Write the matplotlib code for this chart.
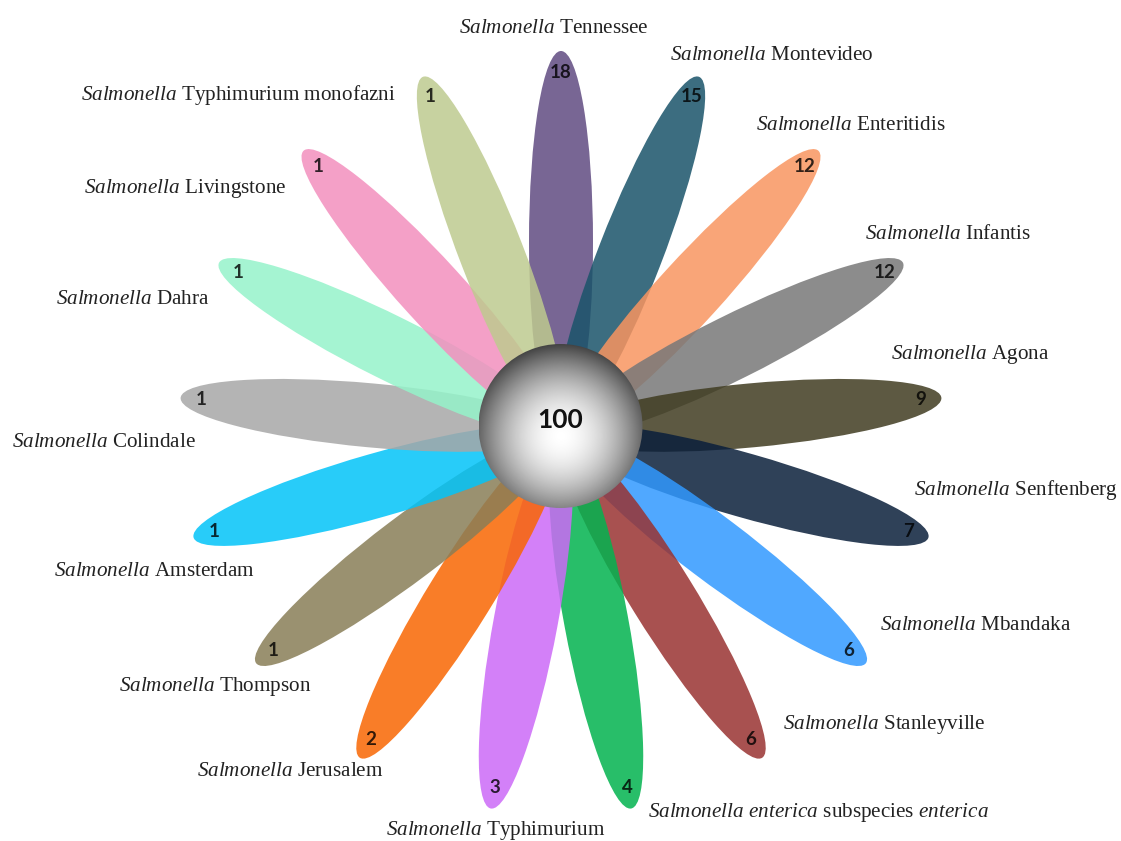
import numpy as np
import matplotlib
matplotlib.use("Agg")
import matplotlib.pyplot as plt
from matplotlib.patches import Ellipse, Circle

# ---- data -------------------------------------------------------------
serotypes = [
    "Tennessee", "Montevideo", "Enteritidis", "Infantis", "Agona",
    "Senftenberg", "Mbandaka", "Stanleyville", "enterica subspecies enterica",
    "Typhimurium", "Jerusalem", "Thompson", "Amsterdam", "Colindale",
    "Dahra", "Livingstone", "Typhimurium monofazni",
]
counts = [18, 15, 12, 12, 9, 7, 6, 6, 4, 3, 2, 1, 1, 1, 1, 1, 1]
total_isolates = 100

# colour of each petal as it appears on white
petal_colors = [
    "#786694", "#3c6e80", "#faa578", "#8c8c8c", "#5d5942",
    "#2f4158", "#50a8ff", "#a85250", "#28be69", "#d480f8",
    "#fa7d28", "#9b9170", "#28cdfa", "#b4b4b4", "#a5f5d2",
    "#f5a0c8", "#c8d2a0",
]

# ---- fonts ------------------------------------------------------------
plt.rcParams["mathtext.fontset"] = "custom"
plt.rcParams["mathtext.it"] = "Liberation Serif:italic"
plt.rcParams["mathtext.rm"] = "Liberation Serif"
plt.rcParams["mathtext.bf"] = "Liberation Serif:bold"

W, H = 1121, 841
fig = plt.figure(figsize=(W / 100, H / 100), dpi=100)
ax = fig.add_axes([0, 0, 1, 1])
ax.set_xlim(0, W)
ax.set_ylim(H, 0)
ax.set_aspect("equal")
ax.axis("off")

# ---- layout -----------------------------------------------------------
cx, cy = 561, 433          # point the petals radiate from
petal_len = 382            # centre to petal tip
petal_w = 64               # petal width
hub_x, hub_y, hub_r = 560.5, 426, 82
n = len(serotypes)
step = 360.0 / n
alpha = 0.85

# anchor points of the name labels (pixel space, text centre)
label_pos = [
    (554, 28), (772, 55), (851, 125), (948, 234), (970, 354),
    (1016, 490), (976, 625), (884, 725), (818, 813), (496, 830),
    (290, 772), (215, 687), (154, 572), (104, 442), (133, 300),
    (185, 188), (238, 95),
]


def label_text(name):
    words = []
    for w in name.split(" "):
        words.append(r"$\mathit{%s}$" % w if w == "enterica" else w)
    return r"$\mathit{Salmonella}$ " + " ".join(words)


def face_for(shown, a):
    # face colour that, drawn with transparency a on white, shows as `shown`
    rgb = np.array(matplotlib.colors.to_rgb(shown))
    return tuple(np.clip((rgb - (1 - a)) / a, 0, 1))


def darker(hexcol, f=0.3):
    rgb = np.array(matplotlib.colors.to_rgb(hexcol))
    return tuple(rgb * f)


# ---- petals -----------------------------------------------------------
for i, (name, cnt, col) in enumerate(zip(serotypes, counts, petal_colors)):
    theta = np.deg2rad(90 - i * step)
    ux, uy = np.cos(theta), -np.sin(theta)
    mid = petal_len / 2
    ell = Ellipse((cx + mid * ux, cy + mid * uy), width=petal_len, height=petal_w,
                  angle=-np.rad2deg(theta), facecolor=face_for(col, alpha),
                  edgecolor="none", alpha=alpha, zorder=2 + i * 0.01)
    ax.add_patch(ell)
    r_num = petal_len - 21
    ax.text(cx + r_num * ux, cy + r_num * uy, str(cnt), ha="center", va="center",
            fontsize=13.5, fontweight="bold", family="Lato",
            color=darker(col, 0.2), zorder=4)
    lx, ly = label_pos[i]
    ax.text(lx, ly, label_text(name), ha="center", va="center", fontsize=15.2,
            family="Liberation Serif", color="#222222", zorder=5)

# ---- central sphere ---------------------------------------------------
res = 300
g = np.linspace(-1, 1, res)
xx, yy = np.meshgrid(g, g)
rr = np.sqrt(xx ** 2 + (yy - 0.12) ** 2)
shade = np.clip(1.0 - 0.6 * np.clip(rr, 0, 1.3) ** 1.8, 0, 1)
img = ax.imshow(shade, cmap="gray", vmin=0, vmax=1, origin="upper",
                extent=(hub_x - hub_r, hub_x + hub_r, hub_y + hub_r, hub_y - hub_r),
                zorder=6, interpolation="bilinear")
clip = Circle((hub_x, hub_y), hub_r, transform=ax.transData)
img.set_clip_path(clip)
ax.set_xlim(0, W)
ax.set_ylim(H, 0)
ax.text(hub_x, hub_y - 6, str(total_isolates), ha="center", va="center",
        fontsize=19, fontweight="bold", family="Lato", color="#111111", zorder=7)

fig.savefig("out.png", dpi=100)
